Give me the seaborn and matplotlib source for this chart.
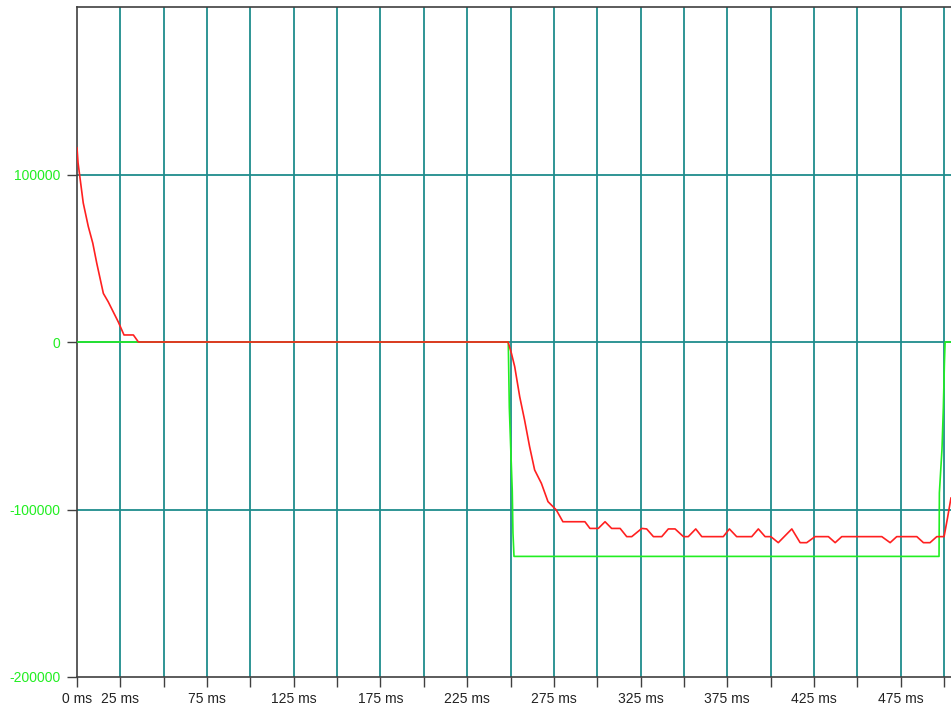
import matplotlib
matplotlib.use("Agg")
import matplotlib.pyplot as plt
import seaborn as sns
import pandas as pd

# ---- data (time in ms) ----
red_t = [0.0, 0.6, 3.6, 6.5, 9.1, 11.4, 15.2, 18.0, 23.8, 27.1, 32.5, 35.4,
         248.6, 250.5, 252.4, 255.3, 258.1, 261.0, 263.9, 267.8, 271.6, 276.4,
         280.2, 292.9, 295.8, 300.6, 304.5, 308.3, 313.2, 317.0, 319.9, 325.7,
         328.5, 332.4, 337.2, 341.0, 344.9, 349.7, 352.5, 356.8, 360.3, 372.7,
         376.2, 380.4, 389.1, 392.9, 396.8, 400.1, 404.4, 412.2, 417.0, 420.8,
         425.6, 433.3, 437.2, 441.0, 464.1, 468.9, 472.7, 484.3, 488.1, 491.9,
         495.8, 500.0, 502.0, 504.0]
red_v = [116000, 107000, 83000, 69000, 59000, 47000, 29000, 24000, 12000, 4200, 4200, 0,
         0, -6700, -14700, -32700, -46600, -62500, -76400, -84400, -95300, -100300,
         -107300, -107300, -111300, -111300, -107300, -111300, -111300, -116200, -116200, -111300,
         -111600, -116200, -116200, -111600, -111600, -116200, -116200, -111600, -116200, -116200,
         -111600, -116200, -116200, -111600, -116200, -116200, -119800, -111600, -119800, -119800,
         -116200, -116200, -119800, -116200, -116200, -119800, -116200, -116200, -119800, -119800,
         -116200, -116200, -105000, -93000]

green_t = [0.0, 248.7, 249.3, 250.1, 251.0, 251.4, 252.0,
           497.1, 497.3, 498.8, 499.6, 500.2, 500.6, 504.0]
green_v = [0, 0, -39000, -63000, -89000, -114000, -128000,
           -128000, -90000, -64000, -39000, -12500, 0, 0]

x_ticks = [0, 25, 50, 75, 100, 125, 150, 175, 200, 225, 250, 275, 300, 325,
           350, 375, 400, 425, 450, 475, 500]
x_labels = ["0 ms", "25 ms", "", "75 ms", "", "125 ms", "", "175 ms", "", "225 ms", "",
            "275 ms", "", "325 ms", "", "375 ms", "", "425 ms", "", "475 ms", ""]
y_ticks = [-200000, -100000, 0, 100000]
y_labels = ["-200000", "-100000", "0", "100000"]

red_df = pd.DataFrame({"t": red_t, "v": red_v})
green_df = pd.DataFrame({"t": green_t, "v": green_v})

sns.set_style("white")
plt.rcParams["font.family"] = ["Liberation Sans", "DejaVu Sans"]

fig = plt.figure(figsize=(9.51, 7.15), dpi=100)
ax = fig.add_axes([77 / 951, 38 / 715, 874 / 951, 670 / 715])

grid_c = "#1f8c8c"
for xt in x_ticks[1:]:
    ax.axvline(xt, color=grid_c, lw=1.3, zorder=1)
for yt in [-100000, 0, 100000]:
    ax.axhline(yt, color=grid_c, lw=1.3, zorder=1)

sns.lineplot(data=green_df, x="t", y="v", color="#22ee22", lw=1.2, ax=ax,
             estimator=None, sort=False, zorder=3)
sns.lineplot(data=red_df, x="t", y="v", color="#ff2020", lw=1.2, ax=ax,
             estimator=None, sort=False, zorder=4)

ax.set_xlim(0, 504)
ax.set_ylim(-200000, 200000)
ax.set_xticks(x_ticks)
ax.set_xticklabels(x_labels)
ax.set_yticks(y_ticks)
ax.set_yticklabels(y_labels)
ax.set_xlabel("")
ax.set_ylabel("")

ax.tick_params(axis="x", direction="out", length=7, width=1, color="#404040",
               labelsize=10, labelcolor="#222222", pad=4, bottom=True)
ax.tick_params(axis="y", direction="out", length=7, width=1, color="#404040",
               labelsize=10, labelcolor="#22ee22", pad=5, left=True)

for s in ["left", "bottom", "top"]:
    ax.spines[s].set_color("#404040")
    ax.spines[s].set_linewidth(1.2)
    ax.spines[s].set_visible(True)
ax.spines["right"].set_visible(False)

fig.savefig("out.png", dpi=100)
